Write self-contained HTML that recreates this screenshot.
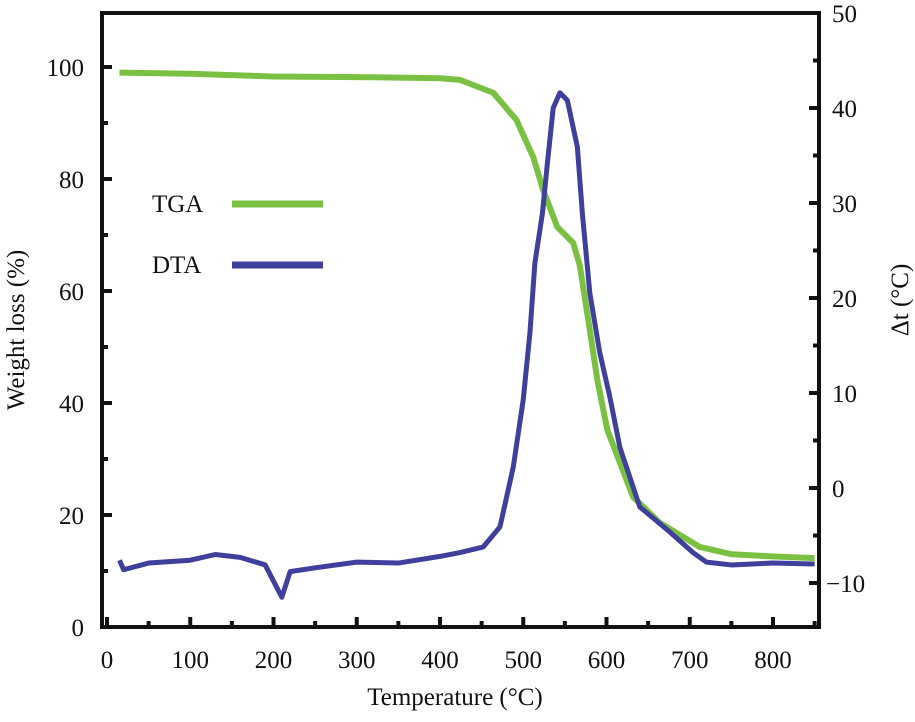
<!DOCTYPE html>
<html><head><meta charset="utf-8"><style>
body{margin:0;background:#fff}
svg text{font-family:"Liberation Serif","DejaVu Serif",serif;font-size:25px;fill:#111}
</style></head><body>
<svg id="c" width="915" height="717" font-family="Liberation Serif, serif"></svg>
<script>
const xTicks=[0,100,200,300,400,500,600,700,800];
const yLeftTicks=[0,20,40,60,80,100];
const yRightTicks=[-10,0,10,20,30,40,50];
const tgaT=[15,100,200,300,400,424,464,492,512,524,541,560,568,580,589,601,632,664,712,750,800,850];
const tgaW=[99,98.8,98.3,98.2,98,97.7,95.4,90.5,83.9,78,71.4,68.6,64.5,53,44.1,35.2,23.2,18.6,14.3,13,12.6,12.3];
const dtaT=[15,20,50,100,130,160,190,210,220,250,300,350,400,424,452,472,488,500,508,514,523,529,536,544,553,565,571,580,592,604,616,632,640,673,704,720,750,800,850];
const dtaV=[-7.6,-8.6,-7.9,-7.6,-7,-7.3,-8.1,-11.5,-8.8,-8.4,-7.8,-7.9,-7.2,-6.8,-6.2,-4.1,2.2,9.3,16.3,23.7,28.9,34.2,40,41.6,40.8,35.9,28.9,20.5,14.2,9.6,4.3,0.1,-2,-4.4,-6.8,-7.8,-8.1,-7.9,-8];
const L=102,R=819,T=13,B=627;
const X=v=>107+v*0.8325;
const YL=v=>627-v*5.6;
const YR=v=>488-v*9.5;
const s=document.getElementById('c');const NS='http://www.w3.org/2000/svg';
function mk(t,a,txt){const e=document.createElementNS(NS,t);for(const k in a)e.setAttribute(k,a[k]);if(txt!==undefined){e.textContent=txt;e.setAttribute('font-family','Liberation Serif, serif');e.setAttribute('font-size','25');}s.appendChild(e);return e;}
let e;
for(let v=0;v<=850;v+=50){e=mk('line',{x1:X(v),x2:X(v),y1:B,y2:B-(v%100?6:10),stroke:'#111','stroke-width':4});

}
xTicks.forEach(v=>{e=mk('text',{x:X(v),y:668,'text-anchor':'middle'},v);

});
for(let v=0;v<=100;v+=10){e=mk('line',{x1:L,x2:L+(v%20?6:10),y1:YL(v),y2:YL(v),stroke:'#111','stroke-width':4});

}
yLeftTicks.forEach(v=>{e=mk('text',{x:84,y:YL(v)+9,'text-anchor':'end'},v);

});
for(let v=-10;v<=45;v+=5){e=mk('line',{x1:R,x2:R-(v%10?6:10),y1:YR(v),y2:YR(v),stroke:'#111','stroke-width':4});

}
yRightTicks.forEach(v=>{e=mk('text',{x:v<0?826:832,y:YR(v)+9},v<0?'\u221210':v);

});
e=mk('polyline',{points:tgaT.map((t,i)=>X(t)+','+YL(tgaW[i])).join(' '),fill:'none',stroke:'#7ac143','stroke-width':6,'stroke-linejoin':'round'});


e=mk('polyline',{points:dtaT.map((t,i)=>X(t)+','+YR(dtaV[i])).join(' '),fill:'none',stroke:'#3f3f9c','stroke-width':5,'stroke-linejoin':'round'});


e=mk('rect',{x:L,y:T,width:R-L,height:B-T,fill:'none',stroke:'#111','stroke-width':4});


e=mk('text',{x:152,y:212},'TGA');


e=mk('line',{x1:232,x2:323,y1:204,y2:204,stroke:'#7ac143','stroke-width':7});


e=mk('text',{x:152,y:273},'DTA');


e=mk('line',{x1:232,x2:323,y1:265,y2:265,stroke:'#3f3f9c','stroke-width':7});


e=mk('text',{x:455,y:705,'text-anchor':'middle'},'Temperature (°C)');


e=mk('text',{x:0,y:0,'text-anchor':'middle',transform:'translate(24,330) rotate(-90)'},'Weight loss (%)');


e=mk('text',{x:0,y:0,'text-anchor':'middle',transform:'translate(908,300) rotate(-90)'},'Δt (°C)');


</script>
</body></html>
